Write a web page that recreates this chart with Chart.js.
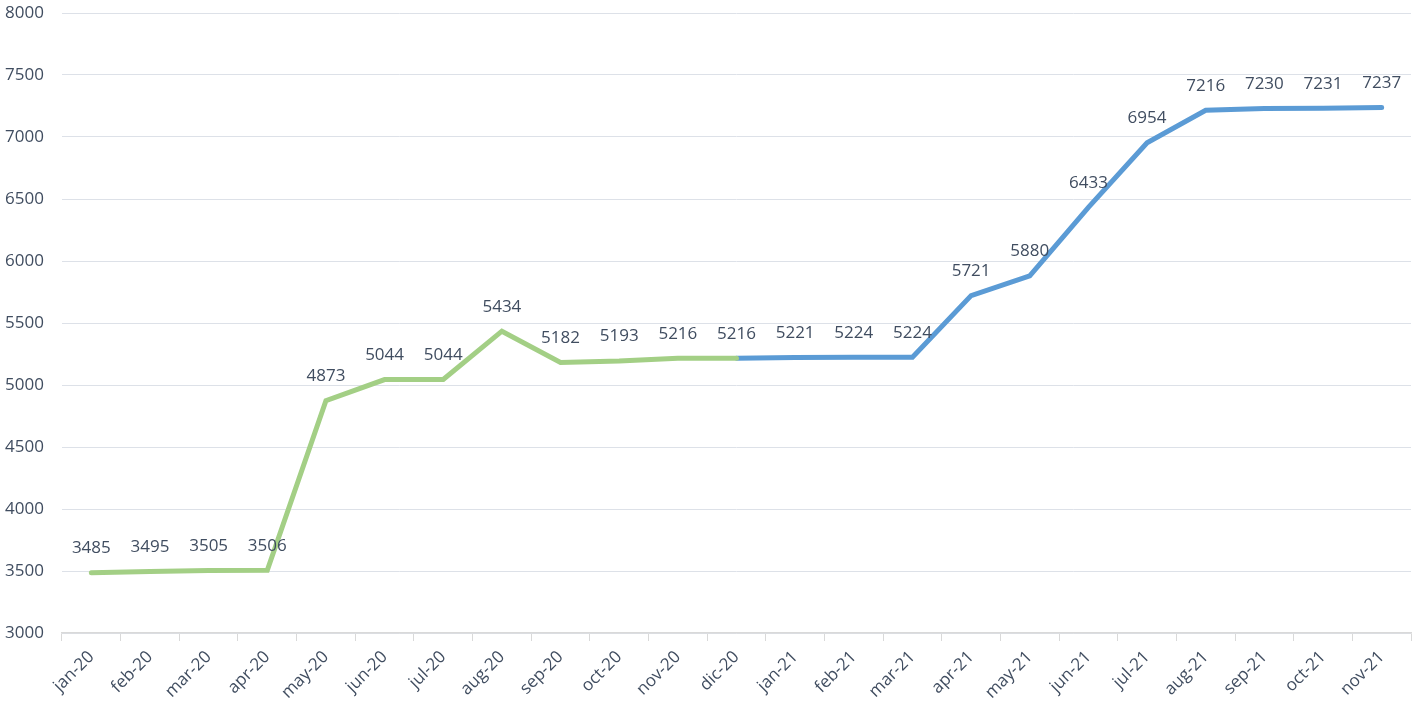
<!DOCTYPE html>
<html>
<head>
<meta charset="utf-8">
<script src="https://cdn.jsdelivr.net/npm/chart.js@4/dist/chart.umd.min.js"></script>
<style>
  html, body { margin: 0; padding: 0; background: #fff; }
  #wrap { width: 1416px; height: 707px; }
</style>
</head>
<body>
<div id="wrap"><canvas id="chart"></canvas></div>
<script>
// categorías (mes-año)
const months = ['jan-20', 'feb-20', 'mar-20', 'apr-20', 'may-20', 'jun-20', 'jul-20', 'aug-20', 'sep-20', 'oct-20', 'nov-20', 'dic-20',
    'jan-21', 'feb-21', 'mar-21', 'apr-21', 'may-21', 'jun-21', 'jul-21', 'aug-21', 'sep-21', 'oct-21', 'nov-21'];

// 2020 (verde) — termina en dic-20
const values2020 = [3485, 3495, 3505, 3506, 4873, 5044, 5044, 5434, 5182, 5193, 5216, 5216,
    null, null, null, null, null, null, null, null, null, null, null];

// 2021 (azul) — arranca en dic-20
const values2021 = [null, null, null, null, null, null, null, null, null, null, null, 5216,
    5221, 5224, 5224, 5721, 5880, 6433, 6954, 7216, 7230, 7231, 7237];

const yTicks = [3000, 3500, 4000, 4500, 5000, 5500, 6000, 6500, 7000, 7500, 8000];

const textColor = '#404d60';
const fontFamily = '"Open Sans", "Noto Sans", sans-serif';

// etiquetas de datos encima de cada punto (dic-20 sólo una vez)
const pointLabels = {
    id: 'pointLabels',
    afterDatasetsDraw(chart) {
        const ctx = chart.ctx;
        ctx.save();
        ctx.font = `17px ${fontFamily}`;
        ctx.fillStyle = textColor;
        ctx.textAlign = 'center';
        ctx.textBaseline = 'bottom';
        chart.data.datasets.forEach((ds, di) => {
            const meta = chart.getDatasetMeta(di);
            meta.data.forEach((pt, i) => {
                const v = ds.data[i];
                if (v == null) return;
                if (di === 1 && values2020[i] != null) return;
                ctx.fillText(String(v), pt.x, pt.y - 16);
            });
        });
        ctx.restore();
    }
};

new Chart(document.getElementById('chart'), {
    type: 'line',
    data: {
        labels: months,
        datasets: [
            {
                label: '2020',
                data: values2020,
                borderColor: '#a3cf85',
                borderWidth: 5,
                pointRadius: 0,
                tension: 0,
                spanGaps: false,
                borderCapStyle: 'round'
            },
            {
                label: '2021',
                data: values2021,
                borderColor: '#5b9bd5',
                borderWidth: 5,
                pointRadius: 0,
                tension: 0,
                spanGaps: false,
                borderCapStyle: 'round'
            }
        ]
    },
    options: {
        responsive: true,
        maintainAspectRatio: false,
        animation: false,
        layout: { padding: { top: 13, right: 5, left: 0, bottom: 0 } },
        plugins: {
            legend: { display: false },
            tooltip: { enabled: false }
        },
        scales: {
            x: {
                offset: true,
                grid: {
                    offset: true,
                    drawOnChartArea: false,
                    drawTicks: true,
                    tickLength: 8,
                    color: '#d9d9d9'
                },
                border: { color: '#d9d9d9', width: 1.5 },
                ticks: {
                    color: textColor,
                    font: { family: fontFamily, size: 17 },
                    minRotation: 45,
                    maxRotation: 45,
                    autoSkip: false,
                    padding: 6
                },
                afterFit: s => { s.height = 74; s.paddingLeft = 0; s.paddingRight = 0; }
            },
            y: {
                min: 3000,
                max: 8000,
                afterBuildTicks: s => { s.ticks = yTicks.map(v => ({ value: v })); },
                grid: { color: '#dde1e8', lineWidth: 1, drawTicks: false },
                border: { display: false },
                ticks: {
                    color: textColor,
                    font: { family: fontFamily, size: 17 },
                    padding: 18,
                    callback: v => String(v)
                },
                afterFit: s => { s.width = 62; s.paddingTop = 0; s.paddingBottom = 0; }
            }
        }
    },
    plugins: [pointLabels]
});
</script>
</body>
</html>
